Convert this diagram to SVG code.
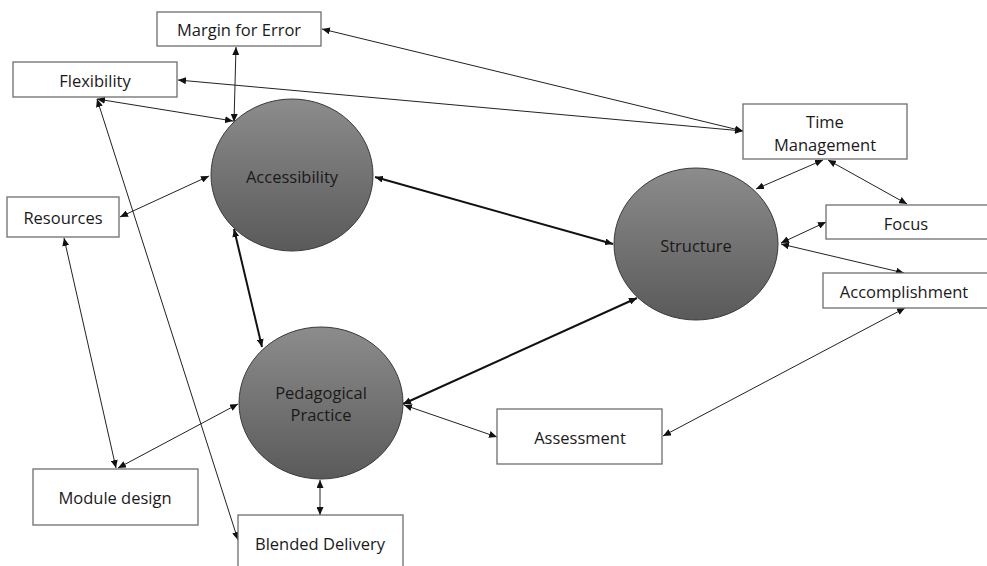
<svg xmlns="http://www.w3.org/2000/svg" width="987" height="566" viewBox="0 0 987 566">
<defs>
<linearGradient id="g" x1="0" y1="0" x2="0" y2="1">
<stop offset="0" stop-color="#8c8c8c"/>
<stop offset="1" stop-color="#5a5a5a"/>
</linearGradient>
<marker id="a" viewBox="0 0 8 7" markerWidth="8" markerHeight="7" refX="8" refY="3.5" orient="auto-start-reverse" markerUnits="userSpaceOnUse">
<path d="M0,0 L8,3.5 L0,7 z" fill="#111"/>
</marker>
</defs>
<style>
.box{fill:#fff;stroke:#6e6e6e;stroke-width:1.3}
.circ{fill:url(#g);stroke:#3a3a3a;stroke-width:1}
text{font-family:"Open Sans","Liberation Sans",sans-serif;font-size:16.5px;fill:#1a1a1a;text-anchor:middle;dominant-baseline:central}
.c line{stroke:#222;stroke-width:1;marker-start:url(#a);marker-end:url(#a)}
.c line.t{stroke:#111;stroke-width:2}
</style>
<rect width="987" height="566" fill="#fff"/>
<g class="c" id="connectors">
<line x1="236" y1="47" x2="234" y2="122"/>
<line x1="97" y1="99" x2="233" y2="121"/>
<line x1="178" y1="80" x2="743" y2="131"/>
<line x1="322" y1="29" x2="743" y2="131"/>
<line x1="120" y1="217" x2="209" y2="176"/>
<line x1="64" y1="238" x2="116" y2="468"/>
<line x1="97" y1="99" x2="238" y2="540"/>
<line x1="118" y1="468" x2="238" y2="404"/>
<line class="t" x1="234" y1="229" x2="262" y2="347"/>
<line class="t" x1="375" y1="177" x2="613" y2="244"/>
<line class="t" x1="403" y1="404" x2="637" y2="298"/>
<line x1="404" y1="405" x2="497" y2="437"/>
<line x1="663" y1="436" x2="905" y2="308"/>
<line x1="756" y1="189" x2="823" y2="160"/>
<line x1="828" y1="160" x2="907" y2="204"/>
<line x1="781" y1="243" x2="826" y2="222"/>
<line x1="781" y1="244" x2="904" y2="273"/>
<line x1="320" y1="480" x2="320" y2="515"/>
</g>
<g id="margin"><rect class="box" x="157" y="12" width="164" height="34"/><text x="239" y="29">Margin for Error</text></g>
<g id="flexibility"><rect class="box" x="13" y="62" width="164" height="35"/><text x="95" y="80">Flexibility</text></g>
<g id="resources"><rect class="box" x="7" y="197" width="112" height="40"/><text x="63" y="217">Resources</text></g>
<g id="module"><rect class="box" x="33" y="469" width="165" height="56"/><text x="115" y="497">Module design</text></g>
<g id="blended"><rect class="box" x="238" y="515" width="165" height="60"/><text x="320" y="543">Blended Delivery</text></g>
<g id="assessment"><rect class="box" x="497" y="409" width="165" height="55"/><text x="580" y="437">Assessment</text></g>
<g id="time"><rect class="box" x="743" y="104" width="164" height="55"/><text x="825" y="121">Time</text><text x="825" y="144">Management</text></g>
<g id="focus"><rect class="box" x="826" y="205" width="170" height="34"/><text x="906" y="223">Focus</text></g>
<g id="accomplishment"><rect class="box" x="823" y="273" width="170" height="35"/><text x="904" y="291">Accomplishment</text></g>
<g id="accessibility"><ellipse class="circ" cx="292" cy="175" rx="81" ry="76"/><text x="292" y="176">Accessibility</text></g>
<g id="pedagogical"><ellipse class="circ" cx="321" cy="403" rx="82" ry="76"/><text x="321" y="392">Pedagogical</text><text x="321" y="414">Practice</text></g>
<g id="structure"><ellipse class="circ" cx="696" cy="244" rx="82" ry="76"/><text x="696" y="245">Structure</text></g>
</svg>
